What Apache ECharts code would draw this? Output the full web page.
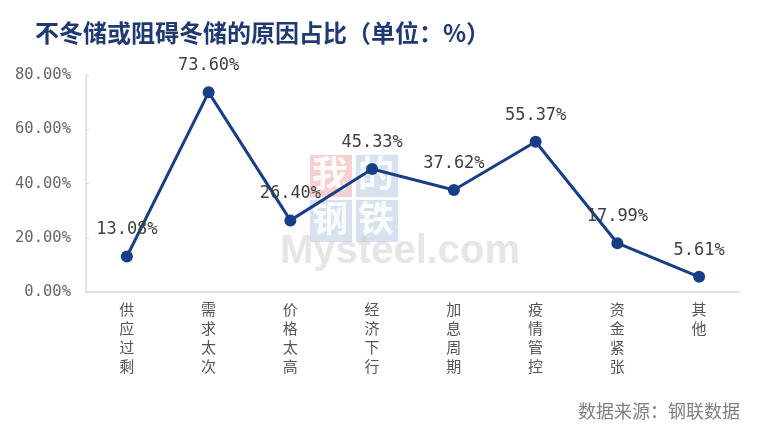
<!DOCTYPE html>
<html><head><meta charset="utf-8">
<script src="https://cdn.jsdelivr.net/npm/echarts@6/dist/echarts.min.js"></script>
<style>html,body{margin:0;padding:0;background:#fff}#c{width:762px;height:434px}</style>
</head><body><div id="c"></div>
<script>
const categories = ['供应过剩','需求太次','价格太高','经济下行','加息周期','疫情管控','资金紧张','其他'];
const values = [13.08, 73.60, 26.40, 45.33, 37.62, 55.37, 17.99, 5.61];
const yTicks = [0, 20, 40, 60, 80];
const titleText = '不冬储或阻碍冬储的原因占比（单位：%）';
const sourceText = '数据来源：钢联数据';

const chart = echarts.init(document.getElementById('c'));
const navy = '#163f87';
chart.setOption({
  backgroundColor: '#fff',
  animation: false,
  title: {
    text: titleText, left: 30, top: 16,
    textStyle: {fontFamily: 'Noto Sans CJK SC', fontWeight: 'bold', fontSize: 24, color: '#1f3a73'}
  },
  graphic: [
    {type:'rect', shape:{x:310,y:155,width:42,height:42}, style:{fill:'rgba(230,120,120,0.35)'}, z:-1},
    {type:'rect', shape:{x:356,y:155,width:42,height:42}, style:{fill:'rgba(140,170,210,0.35)'}, z:-1},
    {type:'rect', shape:{x:310,y:200,width:42,height:42}, style:{fill:'rgba(140,170,210,0.35)'}, z:-1},
    {type:'rect', shape:{x:356,y:200,width:42,height:42}, style:{fill:'rgba(140,170,210,0.35)'}, z:-1},
    {type:'text', left:312, top:155, style:{text:'我', fontSize:36, fill:'rgba(255,255,255,0.9)', fontFamily:'Noto Sans CJK SC', fontWeight:'bold'}, z:-1},
    {type:'text', left:358, top:155, style:{text:'的', fontSize:36, fill:'rgba(255,255,255,0.9)', fontFamily:'Noto Sans CJK SC', fontWeight:'bold'}, z:-1},
    {type:'text', left:312, top:200, style:{text:'钢', fontSize:36, fill:'rgba(255,255,255,0.9)', fontFamily:'Noto Sans CJK SC', fontWeight:'bold'}, z:-1},
    {type:'text', left:358, top:200, style:{text:'铁', fontSize:36, fill:'rgba(255,255,255,0.9)', fontFamily:'Noto Sans CJK SC', fontWeight:'bold'}, z:-1},
    {type:'text', left:280, top:232, style:{text:'Mysteel.com', fontSize:40, fill:'rgba(205,205,205,0.5)', fontFamily:'Liberation Sans', fontWeight:'bold'}, z:-1},
    {type:'text', right:22, top:402, style:{text:sourceText, fontSize:18, fill:'#808080', fontFamily:'Noto Sans CJK SC'}}
  ],
  grid: {left: 86, right: 22, top: 75, bottom: 142},
  xAxis: {
    type: 'category', data: categories, boundaryGap: true,
    axisLine: {lineStyle: {color: '#d9d9d9', width: 1.5}},
    axisTick: {show: false},
    axisLabel: {
      color: '#555', fontSize: 15, fontFamily: 'Noto Sans CJK SC', lineHeight: 19, margin: 8,
      formatter: v => v.split('').join('\n'), interval: 0
    }
  },
  yAxis: {
    type: 'value', min: 0, max: 80, interval: 20,
    axisLine: {show: true, lineStyle: {color: '#d9d9d9', width: 1.5}},
    axisTick: {show: true, inside: true, length: 3, lineStyle: {color: '#d9d9d9'}},
    splitLine: {show: false},
    axisLabel: {color: '#666', fontSize: 15.5, fontFamily: 'DejaVu Sans Mono', margin: 15,
      formatter: v => v.toFixed(2) + '%'}
  },
  series: [{
    type: 'line', data: values,
    lineStyle: {color: navy, width: 3},
    itemStyle: {color: navy},
    symbol: 'circle', symbolSize: 12,
    label: {show: true, position: 'top', distance: 12, color: '#404040', fontSize: 17,
      fontFamily: 'DejaVu Sans Mono',
      formatter: p => p.value.toFixed(2) + '%'}
  }]
});
</script></body></html>
